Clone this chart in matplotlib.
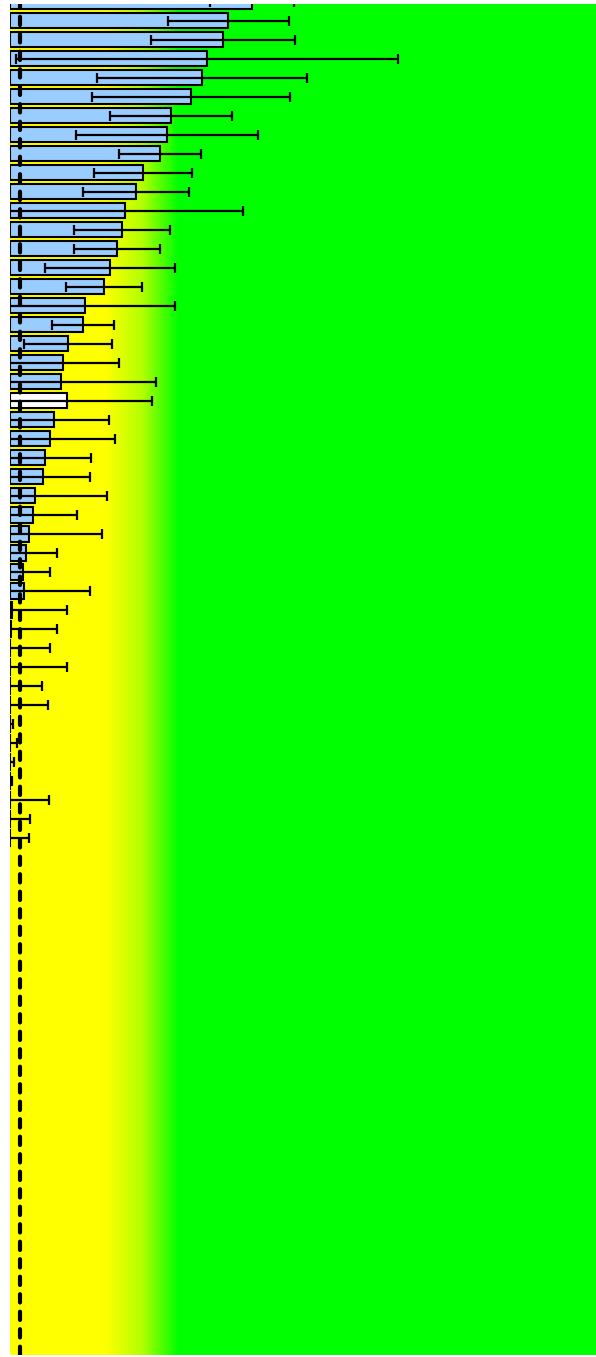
import matplotlib
matplotlib.use('Agg')
import matplotlib.pyplot as plt
import numpy as np
from matplotlib.colors import LinearSegmentedColormap

# bar values (sorted) and error half-widths, arbitrary units
values = [2.42, 2.18, 2.13, 1.97, 1.92, 1.81, 1.61, 1.57, 1.50, 1.33,
          1.26, 1.15, 1.12, 1.07, 1.00, 0.94, 0.75, 0.73, 0.58, 0.53,
          0.51, 0.57, 0.44, 0.40, 0.35, 0.33, 0.25, 0.23, 0.19, 0.16,
          0.13, 0.14, 0.02, 0.005, -0.05, -0.08, -0.10, -0.12, -0.15, -0.17,
          -0.20, -0.22, -0.25, -0.28, -0.30]
errors = [0.42, 0.605, 0.72, 1.91, 1.05, 0.99, 0.61, 0.91, 0.41, 0.49,
          0.53, 1.18, 0.48, 0.43, 0.65, 0.38, 0.90, 0.31, 0.44, 0.56,
          0.95, 0.85, 0.55, 0.65, 0.46, 0.47, 0.72, 0.44, 0.73, 0.31,
          0.27, 0.66, 0.55, 0.47, 0.45, 0.65, 0.42, 0.50, 0.18, 0.24,
          0.24, 0.24, 0.64, 0.48, 0.49]
highlight = 21  # the white bar
threshold = 0.10

fig = plt.figure(figsize=(5.96, 13.57), dpi=100)
ax = fig.add_axes([10 / 596, 2 / 1357, 586 / 596, 1351 / 1357])

xmax = 5.86
ylo, yhi = 71.2, 0.12

# background gradient yellow -> green
cmap = LinearSegmentedColormap.from_list(
    'yg', [(0, '#ffff00'), (0.5, '#b4ff00'), (1, '#00ff00')])
grad = np.linspace(0, xmax, 600).reshape(1, -1)
ax.imshow(grad, cmap=cmap, vmin=0.95, vmax=1.68, aspect='auto',
          extent=[0, xmax, ylo, yhi], zorder=0)

ypos = np.arange(len(values))
colors = ['#99ccff'] * len(values)
colors[highlight] = 'white'
ax.barh(ypos, values, height=0.8, color=colors, edgecolor='black',
        linewidth=1.5, zorder=2)
ax.errorbar(values, ypos, xerr=errors, fmt='none', ecolor='black',
            elinewidth=1.6, capsize=3.5, capthick=1.6, zorder=3)
ax.axvline(threshold, color='black', linewidth=3.0,
           linestyle=(0, (2, 2.2)), dash_capstyle='round', zorder=4)

ax.set_xlim(0, xmax)
ax.set_ylim(ylo, yhi)
ax.axis('off')

fig.savefig('out.png', dpi=100)
